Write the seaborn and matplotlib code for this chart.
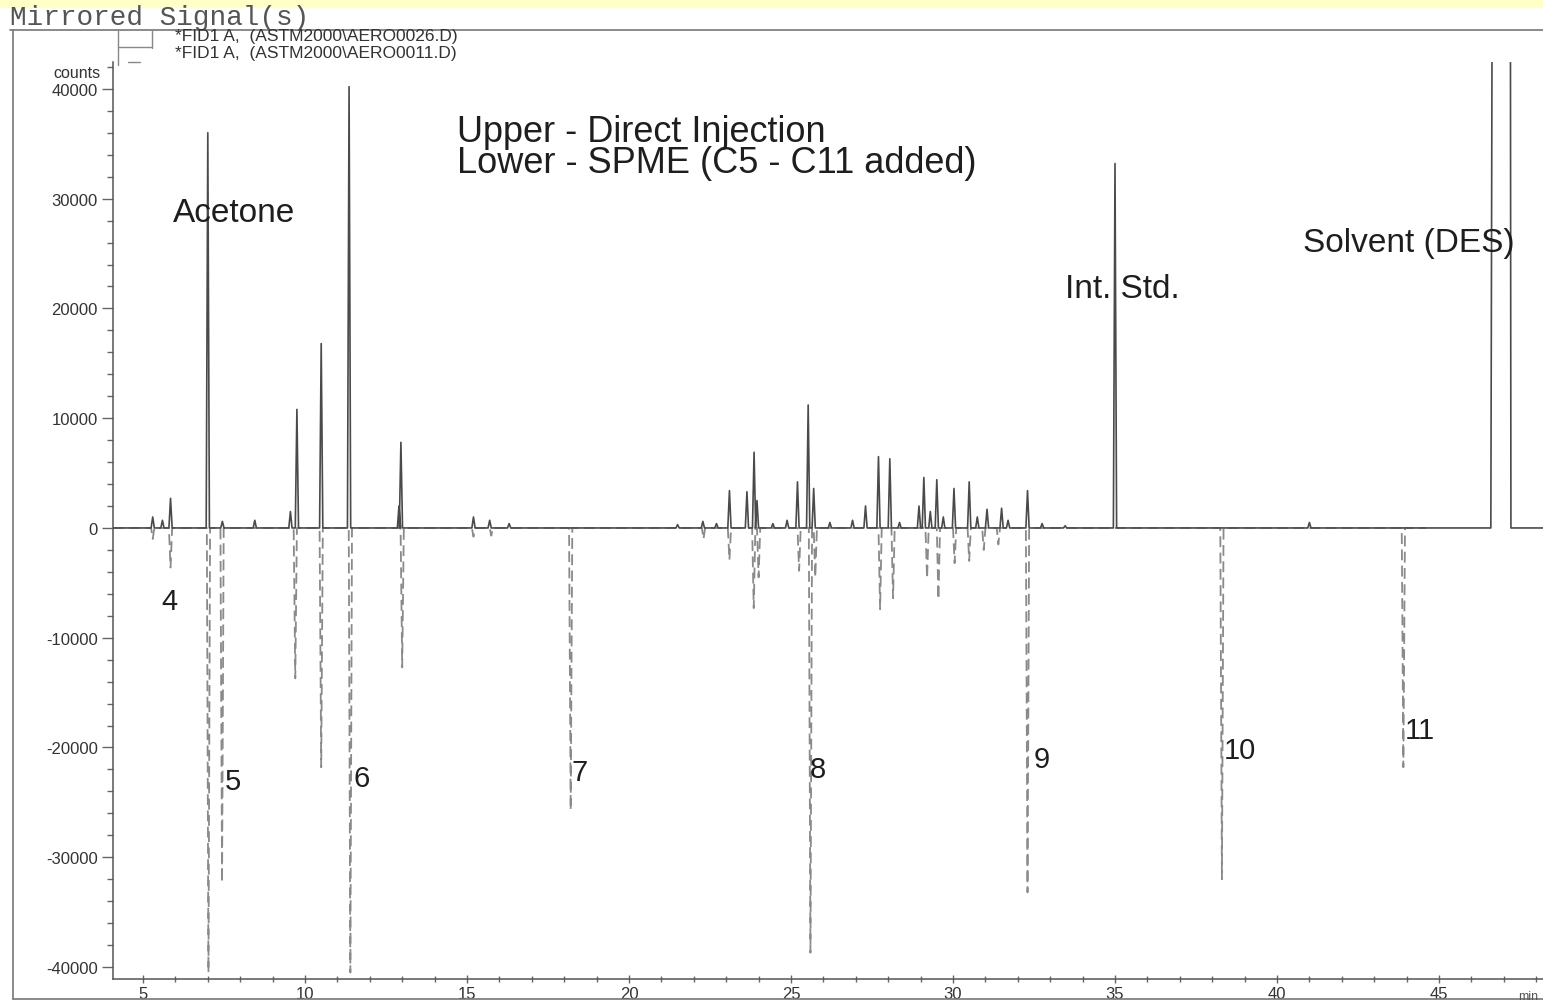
import numpy as np
import pandas as pd
import matplotlib
matplotlib.use("Agg")
import matplotlib.pyplot as plt
from matplotlib.lines import Line2D
from matplotlib.patches import Rectangle
from matplotlib.ticker import MultipleLocator
import seaborn as sns

# ---- data (retention time in min, counts) ----
upper_times = [5.3, 5.6, 5.85, 7.0, 7.45, 8.45, 9.55, 9.75, 10.5, 11.36, 12.9, 12.96,
               15.2, 15.7, 16.3, 21.5, 22.28, 22.7, 23.1, 23.64, 23.86, 23.95, 24.44,
               24.88, 25.2, 25.53, 25.7, 26.2, 26.9, 27.3, 27.7, 28.05, 28.35, 28.95,
               29.1, 29.3, 29.5, 29.7, 30.03, 30.5, 30.75, 31.05, 31.5, 31.7, 32.3,
               32.75, 33.46, 35.0, 41.0]
upper_heights = [1000, 700, 2700, 36000, 600, 700, 1500, 10800, 16800, 40200, 2000, 7800,
                 1000, 700, 400, 300, 600, 400, 3400, 3300, 6900, 2500, 400,
                 700, 4200, 11200, 3600, 500, 700, 2000, 6500, 6300, 500, 2000,
                 4600, 1500, 4400, 1000, 3600, 4200, 1000, 1700, 1800, 700, 3400,
                 400, 200, 33200, 500]
upper_range = [4.07, 48.3]
# solvent (DES) goes off scale
solvent_window = [46.65, 47.2]
solvent_height = 60000

lower_times = [5.3, 5.85, 7.02, 7.44, 9.7, 10.5, 11.4, 13.0, 15.2, 15.75, 18.2, 22.3,
               23.1, 23.85, 24.0, 25.25, 25.6, 25.75, 27.75, 28.15, 29.2, 29.55, 30.05,
               30.5, 30.95, 31.4, 32.3, 38.3, 43.9]
lower_heights = [-1000, -3600, -40500, -32300, -13700, -21800, -40500, -12700, -800, -700,
                 -25700, -1000, -2900, -7300, -4500, -3900, -38700, -4500, -7400, -6400,
                 -4600, -6500, -3200, -3000, -2000, -1500, -33200, -32000, -21800]
lower_range = [4.07, 44.6]

peak_labels = ["4", "5", "6", "7", "8", "9", "10", "11"]
peak_label_times = [5.83, 7.78, 11.76, 18.49, 25.83, 32.75, 38.86, 44.41]
peak_label_counts = [-6650, -23050, -22775, -22230, -21950, -21040, -20220, -18400]


def build_trace(times, heights, span, half_width=0.05, plateau=None, plateau_h=0):
    xs, ys = [span[0]], [0]
    for t, h in sorted(zip(times, heights)):
        xs += [t - half_width, t, t + half_width]
        ys += [0, h, 0]
    if plateau is not None:
        xs += [plateau[0] - 0.05, plateau[0], plateau[1], plateau[1] + 0.02]
        ys += [0, plateau_h, plateau_h, 0]
    xs.append(span[1])
    ys.append(0)
    return pd.DataFrame({"time": xs, "counts": ys})


upper = build_trace(upper_times, upper_heights, upper_range,
                    plateau=solvent_window, plateau_h=solvent_height)
lower = build_trace(lower_times, lower_heights, lower_range)

sns.set_style("white")
plt.rcParams['font.family'] = ['Liberation Sans', 'DejaVu Sans']
plt.rcParams['axes.unicode_minus'] = False

fig = plt.figure(figsize=(15.43, 10.03), dpi=100)
W, H = 1543, 1003
ax = fig.add_axes([113 / W, 1 - 980 / H, 1 - 113 / W, (980 - 63) / H])

sns.lineplot(data=lower, x="time", y="counts", ax=ax, sort=False, estimator=None,
             color="#8a8a8a", lw=1.3, linestyle=(0, (6, 3)))
sns.lineplot(data=upper, x="time", y="counts", ax=ax, sort=False, estimator=None,
             color="#4a4a4a", lw=1.2)

ax.set_xlim(4.074, 48.21)
ax.set_ylim(-41090, 42450)
ax.set_xlabel("")
ax.set_ylabel("")
ax.set_xticks([5, 10, 15, 20, 25, 30, 35, 40, 45])
ax.set_yticks([-40000, -30000, -20000, -10000, 0, 10000, 20000, 30000, 40000])
ax.xaxis.set_minor_locator(MultipleLocator(1))
ax.yaxis.set_minor_locator(MultipleLocator(2000))
ax.tick_params(axis="both", which="both", bottom=True, left=True, color="#666666",
               labelcolor="#333333", labelsize=12, width=1)
ax.tick_params(axis="y", which="major", length=8, direction="out", pad=3)
ax.tick_params(axis="y", which="minor", length=4, direction="out")
ax.tick_params(axis="x", which="major", length=6, direction="inout", pad=2)
ax.tick_params(axis="x", which="minor", length=4, direction="inout")
for side in ["top", "right"]:
    ax.spines[side].set_visible(False)
for side in ["left", "bottom"]:
    ax.spines[side].set_color("#555555")
    ax.spines[side].set_linewidth(1.1)

# annotations
txt = dict(color="#1e1e1e", fontsize=24)
ax.text(14.69, 34710, "Upper - Direct Injection\nLower - SPME (C5 - C11 added)",
        ha="left", va="center", linespacing=0.86, color="#1e1e1e", fontsize=26)
ax.text(5.93, 28700, "Acetone", ha="left", va="center", **txt)
ax.text(33.46, 21860, "Int. Std.", ha="left", va="center", **txt)
ax.text(40.80, 26050, "Solvent (DES)", ha="left", va="center", **txt)
for lab, t, c in zip(peak_labels, peak_label_times, peak_label_counts):
    ax.text(t, c, lab, ha="center", va="center", color="#1e1e1e", fontsize=21)

# instrument style header, frame and legend
fig.patches.append(Rectangle((0, 1 - 8 / H), 1, 8 / H, transform=fig.transFigure,
                             color="#ffffc8", zorder=0))
fig.text(10 / W, 1 - 18 / H, "Mirrored Signal(s)", family="Liberation Mono",
         fontsize=20, color="#555555", va="center", ha="left")
frame = dict(color="#777777", lw=1.2, transform=fig.transFigure)
fig.add_artist(Line2D([10 / W, 1], [1 - 31 / H, 1 - 31 / H], **frame))
fig.add_artist(Line2D([13 / W, 13 / W], [1 - 31 / H, 1 - 1000 / H], **frame))
fig.add_artist(Line2D([13 / W, 1], [1 - 1000 / H, 1 - 1000 / H], **frame))
leg = dict(color="#888888", lw=1, transform=fig.transFigure)
fig.add_artist(Line2D([118 / W, 118 / W], [1 - 31 / H, 1 - 66 / H], **leg))
fig.add_artist(Line2D([152 / W, 152 / W], [1 - 31 / H, 1 - 49 / H], **leg))
fig.add_artist(Line2D([118 / W, 152 / W], [1 - 48 / H, 1 - 48 / H], **leg))
fig.add_artist(Line2D([128 / W, 140 / W], [1 - 63 / H, 1 - 63 / H], **leg))
fig.text(175 / W, 1 - 36 / H, "*FID1 A,  (ASTM2000\\AERO0026.D)", fontsize=12.5,
         color="#333333", va="center")
fig.text(175 / W, 1 - 54 / H, "*FID1 A,  (ASTM2000\\AERO0011.D)", fontsize=12.5,
         color="#333333", va="center")
fig.text(100 / W, 1 - 73 / H, "counts", fontsize=11.5, color="#333333",
         ha="right", va="center")
fig.text(1518 / W, 1 - 997 / H, "min", fontsize=9, color="#555555",
         ha="left", va="center")

fig.savefig("out.png", dpi=100, facecolor="white")
